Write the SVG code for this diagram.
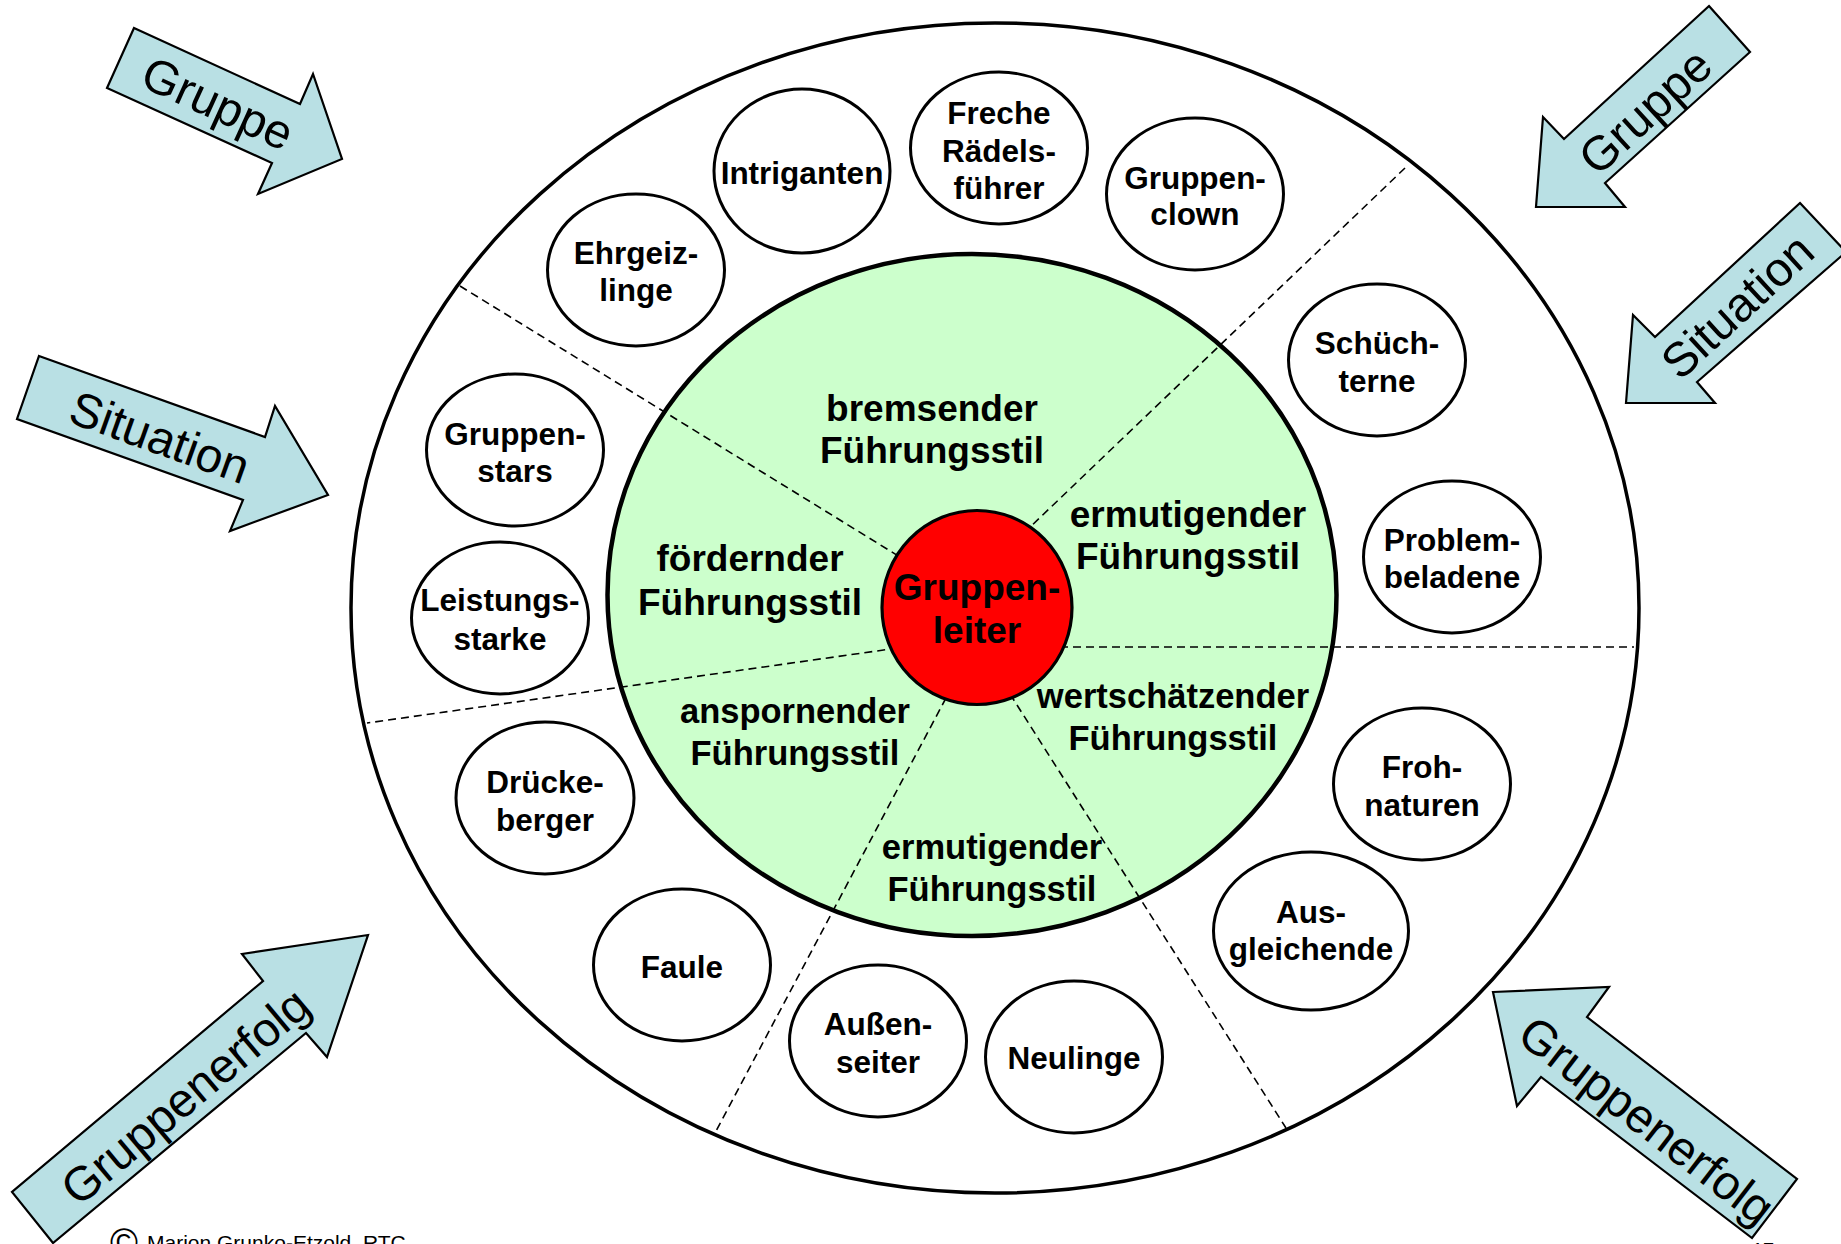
<svg xmlns="http://www.w3.org/2000/svg" width="1841" height="1244" viewBox="0 0 1841 1244">
<style>
.arrow{fill:#b9e0e4;stroke:#000;stroke-width:2.2;stroke-linejoin:miter}
.atext{font-family:"Liberation Sans",Arial,sans-serif;font-size:48px;fill:#000;text-anchor:middle}
.node{fill:#fff;stroke:#000;stroke-width:3}
.ntext{font-family:"Liberation Sans",Arial,sans-serif;font-size:31.5px;font-weight:bold;fill:#000;text-anchor:middle}
.stext{font-family:"Liberation Sans",Arial,sans-serif;font-weight:bold;fill:#000;text-anchor:middle}
.big{font-size:37px}
.small{font-size:34.5px}
.dash{stroke:#000;stroke-width:1.6;stroke-dasharray:8 5;fill:none}
</style>
<rect x="0" y="0" width="1841" height="1244" fill="#fff"/>

<g id="arrows">
  <g id="arrow-gruppe-left">
    <polygon class="arrow" points="134,28 300,104 313,74 342,159 258,194 272,163 107,88"/>
    <text class="atext" transform="translate(218,103) rotate(24.5)" x="0" y="17">Gruppe</text>
  </g>
  <g id="arrow-situation-left">
    <polygon class="arrow" points="39,356 265,437 275,406 328,495 230,531 243,500 17,419"/>
    <text class="atext" transform="translate(160,437) rotate(19.7)" x="0" y="17">Situation</text>
  </g>
  <g id="arrow-gruppe-right">
    <polygon class="arrow" points="1709,6 1750,52 1605,183 1625,207 1536,207 1543,117 1564,139"/>
    <text class="atext" transform="translate(1645,111) rotate(-42.5)" x="0" y="17">Gruppe</text>
  </g>
  <g id="arrow-situation-right">
    <polygon class="arrow" points="1800,203 1846,252 1697,382 1715,403 1626,403 1633,315 1655,337"/>
    <text class="atext" transform="translate(1737,306) rotate(-42.7)" x="0" y="17">Situation</text>
  </g>
  <g id="arrow-erfolg-left">
    <polygon class="arrow" points="263,981 242,954 368,935 327,1057 306,1033 53,1243 12,1192"/>
    <text class="atext" transform="translate(185,1096) rotate(-40)" x="0" y="17">Gruppenerfolg</text>
  </g>
  <g id="arrow-erfolg-right">
    <polygon class="arrow" points="1493,992 1609,987 1587,1017 1797,1179 1752,1238 1541,1077 1517,1106"/>
    <text class="atext" transform="translate(1647,1120) rotate(37.6)" x="0" y="17">Gruppenerfolg</text>
  </g>
</g>

<g id="outer">
  <ellipse cx="995" cy="608" rx="644" ry="585" fill="#fff" stroke="#000" stroke-width="3.5"/>
</g>

<g id="inner">
  <ellipse cx="972" cy="595" rx="364.5" ry="341" fill="#ccffcc" stroke="#000" stroke-width="4.5"/>
</g>

<g id="connectors">
  <line class="dash" x1="460" y1="286" x2="900" y2="557"/>
  <line class="dash" x1="1405" y1="168" x2="1026" y2="531"/>
  <line class="dash" x1="1060" y1="647" x2="1634" y2="647"/>
  <line class="dash" x1="898" y1="648" x2="367" y2="723"/>
  <line class="dash" x1="946" y1="698" x2="715" y2="1133"/>
  <line class="dash" x1="1010" y1="694" x2="1286" y2="1128"/>
</g>

<g id="styles">
  <text class="stext big" x="932" y="421">bremsender</text>
  <text class="stext big" x="932" y="463">Führungsstil</text>
  <text class="stext big" x="1188" y="527">ermutigender</text>
  <text class="stext big" x="1188" y="569">Führungsstil</text>
  <text class="stext big" x="750" y="571">fördernder</text>
  <text class="stext big" x="750" y="615">Führungsstil</text>
  <text class="stext small" x="795" y="723">anspornender</text>
  <text class="stext small" x="795" y="765">Führungsstil</text>
  <text class="stext small" x="1173" y="708">wertschätzender</text>
  <text class="stext small" x="1173" y="750">Führungsstil</text>
  <text class="stext small" x="992" y="859">ermutigender</text>
  <text class="stext small" x="992" y="901">Führungsstil</text>
</g>

<g id="gruppenleiter">
  <ellipse cx="977" cy="607.5" rx="95" ry="97" fill="#ff0000" stroke="#000" stroke-width="3.2"/>
  <text class="stext big" x="977" y="600">Gruppen-</text>
  <text class="stext big" x="977" y="643">leiter</text>
</g>

<g id="node-intriganten">
  <ellipse class="node" cx="802" cy="171" rx="88" ry="82"/>
  <text class="ntext" x="802" y="184">Intriganten</text>
</g>
<g id="node-freche">
  <ellipse class="node" cx="999" cy="148" rx="88.5" ry="76"/>
  <text class="ntext" x="999" y="124">Freche</text>
  <text class="ntext" x="999" y="161.5">Rädels-</text>
  <text class="ntext" x="999" y="199">führer</text>
</g>
<g id="node-gruppenclown">
  <ellipse class="node" cx="1195" cy="194" rx="88.5" ry="76"/>
  <text class="ntext" x="1195" y="188.5">Gruppen-</text>
  <text class="ntext" x="1195" y="225">clown</text>
</g>
<g id="node-ehrgeizlinge">
  <ellipse class="node" cx="636" cy="270" rx="88.5" ry="76"/>
  <text class="ntext" x="636" y="263.5">Ehrgeiz-</text>
  <text class="ntext" x="636" y="301">linge</text>
</g>
<g id="node-schuechterne">
  <ellipse class="node" cx="1377" cy="360" rx="88.5" ry="76"/>
  <text class="ntext" x="1377" y="354">Schüch-</text>
  <text class="ntext" x="1377" y="391.5">terne</text>
</g>
<g id="node-gruppenstars">
  <ellipse class="node" cx="515" cy="450" rx="88.5" ry="76"/>
  <text class="ntext" x="515" y="444.5">Gruppen-</text>
  <text class="ntext" x="515" y="482">stars</text>
</g>
<g id="node-problembeladene">
  <ellipse class="node" cx="1452" cy="557" rx="88.5" ry="76"/>
  <text class="ntext" x="1452" y="551">Problem-</text>
  <text class="ntext" x="1452" y="588">beladene</text>
</g>
<g id="node-leistungsstarke">
  <ellipse class="node" cx="500" cy="618" rx="88.5" ry="76"/>
  <text class="ntext" x="500" y="611">Leistungs-</text>
  <text class="ntext" x="500" y="650">starke</text>
</g>
<g id="node-drueckeberger">
  <ellipse class="node" cx="545" cy="798" rx="89" ry="76"/>
  <text class="ntext" x="545" y="793">Drücke-</text>
  <text class="ntext" x="545" y="831">berger</text>
</g>
<g id="node-frohnaturen">
  <ellipse class="node" cx="1422" cy="784" rx="88.5" ry="76"/>
  <text class="ntext" x="1422" y="778">Froh-</text>
  <text class="ntext" x="1422" y="815.5">naturen</text>
</g>
<g id="node-ausgleichende">
  <ellipse class="node" cx="1311" cy="931" rx="97.5" ry="79"/>
  <text class="ntext" x="1311" y="922.5">Aus-</text>
  <text class="ntext" x="1311" y="960">gleichende</text>
</g>
<g id="node-faule">
  <ellipse class="node" cx="682" cy="965" rx="88.5" ry="76"/>
  <text class="ntext" x="682" y="977.5">Faule</text>
</g>
<g id="node-aussenseiter">
  <ellipse class="node" cx="878" cy="1041" rx="88.5" ry="76"/>
  <text class="ntext" x="878" y="1035">Außen-</text>
  <text class="ntext" x="878" y="1072.5">seiter</text>
</g>
<g id="node-neulinge">
  <ellipse class="node" cx="1074" cy="1057" rx="88.5" ry="76"/>
  <text class="ntext" x="1074" y="1069">Neulinge</text>
</g>

<g id="footer">
  <text x="110" y="1256" font-family="'Liberation Sans',Arial,sans-serif" font-size="38" fill="#000">©</text>
  <text x="147" y="1250" font-family="'Liberation Sans',Arial,sans-serif" font-size="21" fill="#000">Marion Grunko-Etzold, RTC</text>
  <text x="1752" y="1257" font-family="'Liberation Sans',Arial,sans-serif" font-size="20" fill="#000">17</text>
</g>
</svg>
